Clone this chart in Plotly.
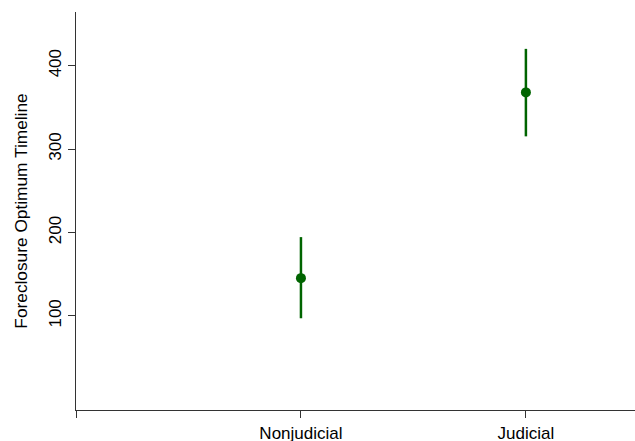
import plotly.graph_objects as go

categories = ["Nonjudicial", "Judicial"]
x_pos = [1, 2]
means = [145.3, 368.0]
ci_low = [97.2, 315.3]
ci_high = [194.5, 420.2]

tick_vals_x = [0, 1, 2]
tick_text_x = [""] + categories
tick_vals_y = [100, 200, 300, 400]

green = "#006400"
axis_col = "#333333"
font_fam = "Liberation Sans, Arial, sans-serif"

fig = go.Figure()
for xp, lo, hi in zip(x_pos, ci_low, ci_high):
    fig.add_trace(go.Scatter(x=[xp, xp], y=[lo, hi], mode="lines",
                             line=dict(color=green, width=2.5), showlegend=False,
                             hoverinfo="skip"))
fig.add_trace(go.Scatter(x=x_pos, y=means, mode="markers",
                         marker=dict(color=green, size=10), showlegend=False))

fig.update_layout(
    width=635, height=441,
    margin=dict(l=76, r=0, t=12, b=31),
    paper_bgcolor="white", plot_bgcolor="white",
    font=dict(family=font_fam, size=17, color="black"),
    xaxis=dict(range=[0, 2.485], tickvals=tick_vals_x, ticktext=tick_text_x,
               showgrid=False, zeroline=False, showline=True, linecolor=axis_col,
               linewidth=1, ticks="outside", ticklen=7, tickcolor=axis_col,
               tickfont=dict(size=17), ticklabelstandoff=1, automargin=False),
    yaxis=dict(range=[-12.8, 464.4], tickvals=tick_vals_y,
               showgrid=False, zeroline=False, showline=True, linecolor=axis_col,
               linewidth=1, ticks="outside", ticklen=7, tickcolor=axis_col,
               tickangle=-90, tickfont=dict(size=17), automargin=False,
               title=dict(text="Foreclosure Optimum Timeline", font=dict(size=17.3),
                          standoff=14)),
)

fig.write_html("out.html", config={"displayModeBar": False},
               post_script="document.body.style.margin='0';document.body.style.overflow='hidden';")
